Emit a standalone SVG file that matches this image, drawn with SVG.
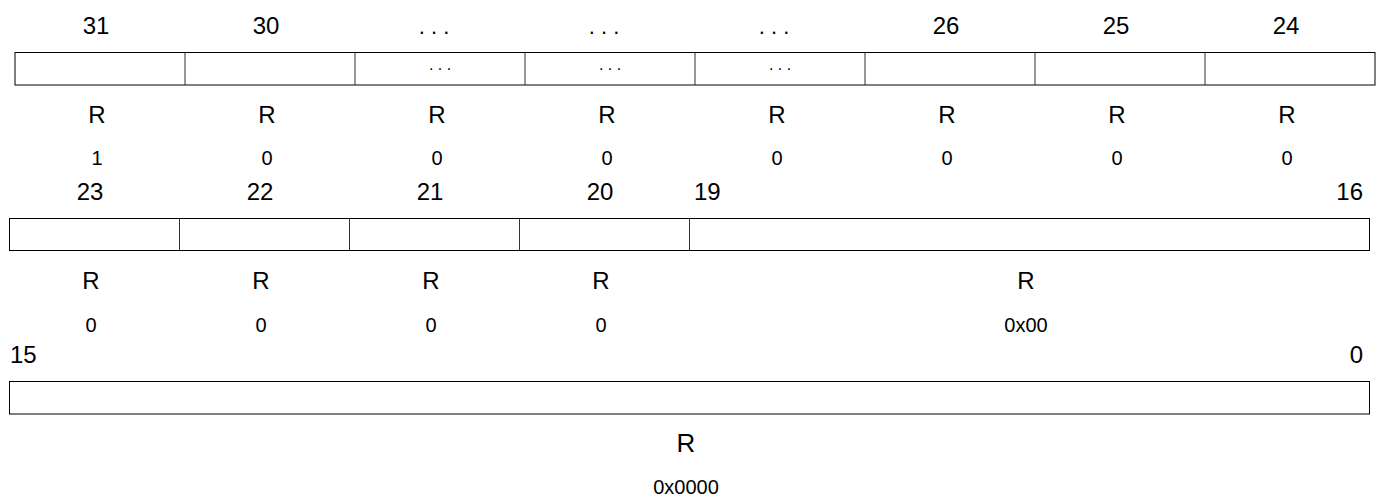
<svg xmlns="http://www.w3.org/2000/svg" width="1383" height="502" viewBox="0 0 1383 502">
<style>
text{font-family:"Liberation Sans",Arial,sans-serif;fill:#000}
.h{font-size:24px}
.dh{font-size:22px}
.r{font-size:24px;text-anchor:middle}
.v{font-size:20px;text-anchor:middle}
.c{text-anchor:middle}
.d{font-size:16px;text-anchor:middle}
.box{fill:#fff;stroke:#000;stroke-width:1}
</style>
<rect width="1383" height="502" fill="#fff"/>
<g id="row1">
<rect class="box" x="15" y="52.5" width="1360" height="32.5"/>
<g stroke="#333" stroke-width="1">
<line x1="185" y1="52.5" x2="185" y2="85"/><line x1="355" y1="52.5" x2="355" y2="85"/><line x1="525" y1="52.5" x2="525" y2="85"/><line x1="695" y1="52.5" x2="695" y2="85"/><line x1="865" y1="52.5" x2="865" y2="85"/><line x1="1035" y1="52.5" x2="1035" y2="85"/><line x1="1205" y1="52.5" x2="1205" y2="85"/>
</g>
<g class="h c">
<text x="96" y="34">31</text><text x="266" y="34">30</text><text x="946" y="34">26</text><text x="1116" y="34">25</text><text x="1286" y="34">24</text>
</g>
<g class="dh c">
<text x="434" y="34">. . .</text><text x="604" y="34">. . .</text><text x="774" y="34">. . .</text>
</g>
<g class="d">
<text x="440" y="70">. . .</text><text x="610" y="70">. . .</text><text x="780" y="70">. . .</text>
</g>
<g class="r">
<text x="97" y="123">R</text><text x="267" y="123">R</text><text x="437" y="123">R</text><text x="607" y="123">R</text><text x="777" y="123">R</text><text x="947" y="123">R</text><text x="1117" y="123">R</text><text x="1287" y="123">R</text>
</g>
<g class="v">
<text x="97" y="165">1</text><text x="267" y="165">0</text><text x="437" y="165">0</text><text x="607" y="165">0</text><text x="777" y="165">0</text><text x="947" y="165">0</text><text x="1117" y="165">0</text><text x="1287" y="165">0</text>
</g>
</g>
<g id="row2">
<rect class="box" x="9.5" y="218.5" width="1360" height="32"/>
<g stroke="#333" stroke-width="1">
<line x1="179.5" y1="218.5" x2="179.5" y2="250.5"/><line x1="349.5" y1="218.5" x2="349.5" y2="250.5"/><line x1="519.5" y1="218.5" x2="519.5" y2="250.5"/><line x1="689.5" y1="218.5" x2="689.5" y2="250.5"/>
</g>
<g class="h c">
<text x="90" y="200">23</text><text x="260" y="200">22</text><text x="430" y="200">21</text><text x="600" y="200">20</text>
</g>
<text class="h" x="694" y="200">19</text>
<text class="h" x="1363" y="200" text-anchor="end">16</text>
<g class="r">
<text x="91" y="289">R</text><text x="261" y="289">R</text><text x="431" y="289">R</text><text x="601" y="289">R</text><text x="1026" y="289">R</text>
</g>
<g class="v">
<text x="91" y="332">0</text><text x="261" y="332">0</text><text x="431" y="332">0</text><text x="601" y="332">0</text><text x="1026" y="332">0x00</text>
</g>
</g>
<g id="row3">
<rect class="box" x="9.5" y="381.5" width="1360" height="32.5"/>
<text class="h" x="10" y="363">15</text>
<text class="h" x="1363" y="363" text-anchor="end">0</text>
<text class="r" x="686" y="452" style="font-size:26px">R</text>
<text class="v" x="686" y="494">0x0000</text>
</g>
<g id="connectors"/>
</svg>
